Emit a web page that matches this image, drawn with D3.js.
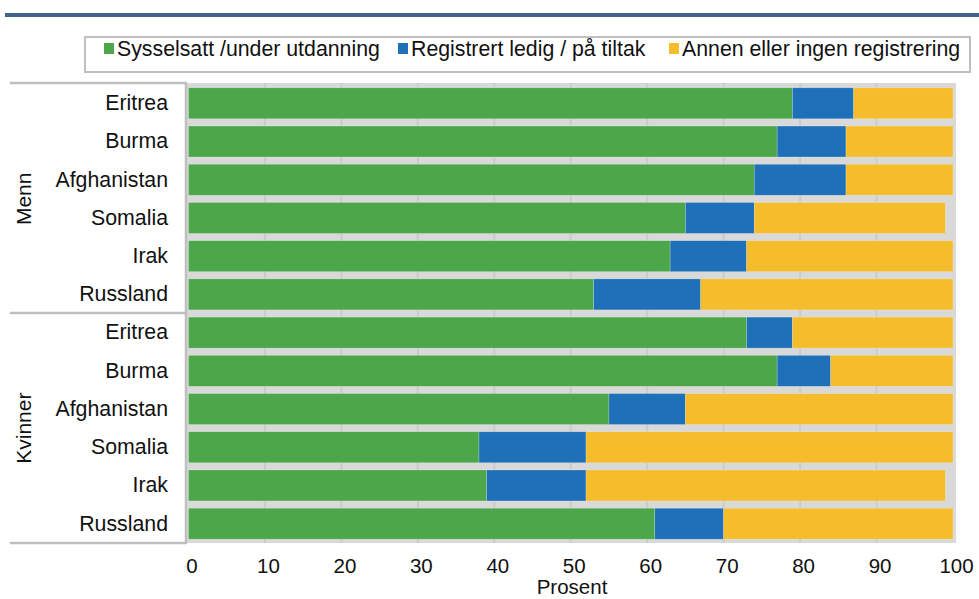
<!DOCTYPE html>
<html>
<head>
<meta charset="utf-8">
<script src="https://cdn.jsdelivr.net/npm/d3@7"></script>
<style>
  html, body { margin: 0; padding: 0; background: #fff; }
  svg { display: block; font-family: "Liberation Sans", Arial, sans-serif; }
</style>
</head>
<body>
<svg id="chart" width="979" height="599"></svg>
<script>
// ---- data ----
const groups = ["Menn", "Kvinner"];
const countries = ["Eritrea", "Burma", "Afghanistan", "Somalia", "Irak", "Russland"];
const seriesNames = ["Sysselsatt /under utdanning", "Registrert ledig / på tiltak", "Annen eller ingen registrering"];
const sysselsattMenn    = [79, 77, 74, 65, 63, 53];
const ledigMenn         = [8, 9, 12, 9, 10, 14];
const annenMenn         = [13, 14, 14, 25, 27, 33];
const sysselsattKvinner = [73, 77, 55, 38, 39, 61];
const ledigKvinner      = [6, 7, 10, 14, 13, 9];
const annenKvinner      = [21, 16, 35, 48, 47, 30];
const xTicks = [0, 10, 20, 30, 40, 50, 60, 70, 80, 90, 100];
const xLabel = "Prosent";

const colors = ["#4ca64a", "#1e70b8", "#f5bc2c"];

// build rows
const groupData = {
  "Menn": [sysselsattMenn, ledigMenn, annenMenn],
  "Kvinner": [sysselsattKvinner, ledigKvinner, annenKvinner]
};
const rows = [];
groups.forEach(g => {
  countries.forEach((c, i) => {
    const vals = groupData[g].map(s => s[i]);
    rows.push({ key: g + "|" + c, group: g, country: c, vals });
  });
});

const svg = d3.select("#chart");

// top rule
svg.append("rect").attr("x", 5).attr("y", 13).attr("width", 974).attr("height", 4).attr("fill", "#44608c");

// scales
const x = d3.scaleLinear().domain([0, 100]).range([188.5, 953]);
const y = d3.scaleBand().domain(rows.map(r => r.key)).range([84, 543]).paddingInner(0.19).paddingOuter(0.1);

// plot background
svg.append("rect").attr("x", 186).attr("y", 83).attr("width", 770).attr("height", 460)
  .attr("fill", "#d9d9d9");

// gridlines
svg.append("g").selectAll("line").data(xTicks.slice(1, -1)).join("line")
  .attr("x1", d => x(d)).attr("x2", d => x(d))
  .attr("y1", 83).attr("y2", 543)
  .attr("stroke", "#cbcbcb").attr("stroke-width", 2);

// bars
const stackRows = rows.map(r => {
  let acc = 0;
  return r.vals.map((v, i) => { const s = { key: r.key, i, x0: acc, x1: acc + v }; acc += v; return s; });
});
svg.append("g").selectAll("g").data(stackRows).join("g")
  .selectAll("rect").data(d => d).join("rect")
  .attr("x", d => x(d.x0))
  .attr("width", d => x(d.x1) - x(d.x0))
  .attr("y", d => y(d.key))
  .attr("height", y.bandwidth())
  .attr("fill", d => colors[d.i])
  .attr("stroke", "#ffffff").attr("stroke-opacity", 0.35).attr("stroke-width", 0.6);

// left axis line and group separators
const axisColor = "#bfbfbf";
svg.append("line").attr("x1", 186).attr("x2", 186).attr("y1", 82).attr("y2", 544)
  .attr("stroke", axisColor).attr("stroke-width", 2.5);
[83, 313, 543].forEach(yy => {
  svg.append("line").attr("x1", 10).attr("x2", 186).attr("y1", yy).attr("y2", yy)
    .attr("stroke", axisColor).attr("stroke-width", 2.5);
});

// y axis labels
const yAxis = d3.axisLeft(y).tickSize(0).tickPadding(0).tickFormat(k => k.split("|")[1]);
const yg = svg.append("g").attr("transform", "translate(168,0)").call(yAxis);
yg.select(".domain").remove();
yg.selectAll("text").attr("font-size", 21.3).attr("fill", "#111").attr("font-family", "Liberation Sans, Arial, sans-serif");

// group labels
groups.forEach(g => {
  const keys = rows.filter(r => r.group === g).map(r => r.key);
  const cy = (y(keys[0]) + y(keys[keys.length - 1]) + y.bandwidth()) / 2;
  svg.append("text").attr("transform", `translate(31,${cy}) rotate(-90)`)
    .attr("text-anchor", "middle").attr("font-size", 21).attr("fill", "#111").text(g);
});

// x axis
const xAxis = d3.axisBottom(x).tickValues(xTicks).tickSize(0).tickPadding(0).tickFormat(d3.format("d"));
const xg = svg.append("g").attr("transform", "translate(3,558)").call(xAxis);
xg.select(".domain").remove();
xg.selectAll("text").attr("font-size", 20.5).attr("fill", "#111").attr("font-family", "Liberation Sans, Arial, sans-serif");

svg.append("text").attr("x", 572).attr("y", 594).attr("text-anchor", "middle")
  .attr("font-size", 20.5).attr("fill", "#111").text(xLabel);

// legend
svg.append("rect").attr("x", 85).attr("y", 37).attr("width", 885).attr("height", 35)
  .attr("fill", "#fff").attr("stroke", axisColor).attr("stroke-width", 2);
const legX = [104, 398, 669];
const leg = svg.append("g").selectAll("g").data(seriesNames).join("g")
  .attr("transform", (d, i) => `translate(${legX[i]},48)`);
leg.append("rect").attr("x", 0).attr("y", -5).attr("width", 10).attr("height", 11)
  .attr("fill", (d, i) => colors[i]);
leg.append("text").attr("x", 13).attr("y", 7.5).attr("font-size", 21.3).attr("fill", "#111").text(d => d);
</script>
</body>
</html>
